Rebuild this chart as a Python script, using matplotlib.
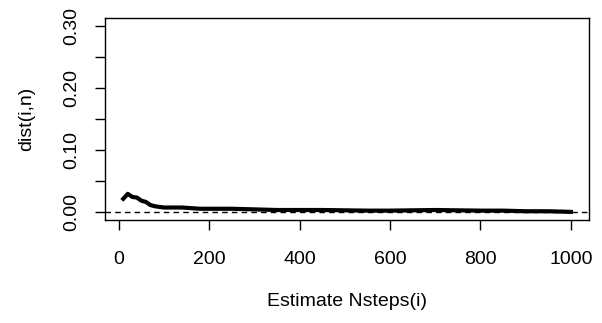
import matplotlib
matplotlib.use("Agg")
import matplotlib.pyplot as plt

# estimated convergence of dist(i,n)
steps = [10, 20, 30, 40, 50, 60, 70, 80, 90, 100, 120, 140, 160, 180, 200,
         250, 300, 350, 400, 450, 500, 550, 600, 650, 700, 750, 800, 850,
         900, 950, 1000]
dist = [0.022, 0.030, 0.025, 0.024, 0.019, 0.017, 0.012, 0.010, 0.009, 0.008,
        0.008, 0.008, 0.007, 0.006, 0.006, 0.006, 0.005, 0.004, 0.004, 0.004,
        0.0035, 0.003, 0.003, 0.0035, 0.004, 0.0035, 0.003, 0.003, 0.002,
        0.002, 0.001]
xticks = [0, 200, 400, 600, 800, 1000]
yticks = [0.00, 0.05, 0.10, 0.15, 0.20, 0.25, 0.30]
ylabels = ["0.00", "", "0.10", "", "0.20", "", "0.30"]

plt.rcParams['font.family'] = ['Liberation Sans', 'DejaVu Sans']
fig = plt.figure(figsize=(6.02, 3.23), dpi=100)
ax = fig.add_axes([0.175, 0.319, 0.803, 0.624])

ax.plot(steps, dist, color='black', lw=3, solid_joinstyle='round')
ax.axhline(0, color='black', lw=1, ls=(0, (4, 3)))

ax.set_xlim(-29.6, 1039.6)
ax.set_ylim(-0.012, 0.312)
ax.set_xticks(xticks)
ax.set_yticks(yticks)
ax.set_yticklabels(ylabels, rotation=90, va='center')
ax.tick_params(direction='out', length=7, width=1, labelsize=14)
ax.tick_params(axis='x', pad=15)
ax.tick_params(axis='y', pad=11)
for s in ax.spines.values():
    s.set_linewidth(1)

ax.set_xlabel('Estimate Nsteps(i)', fontsize=14, labelpad=18)
ax.set_ylabel('dist(i,n)', fontsize=14, labelpad=20)

fig.savefig('out.png', dpi=100)
